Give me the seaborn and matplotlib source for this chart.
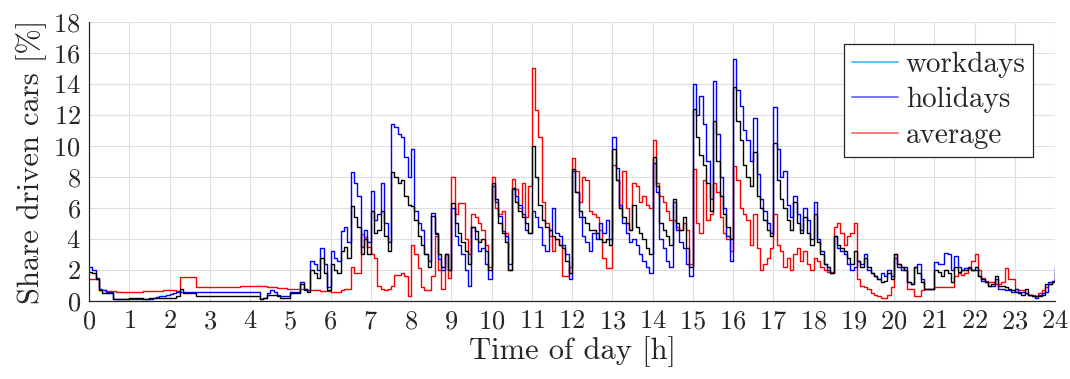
import numpy as np
import pandas as pd
import matplotlib
matplotlib.use("Agg")
import matplotlib.pyplot as plt
from matplotlib.lines import Line2D
import seaborn as sns

# Share of driven cars [%], sampled every 5 minutes from 0:00 to 24:00
minutes = np.arange(0, 24 * 60 + 1, 5)
time_h = minutes / 60.0

average = [
    1.4, 1.4, 1.4, 0.7, 0.7, 0.65, 0.65, 0.65, 0.6, 0.6, 0.6, 0.6,
    0.6, 0.6, 0.6, 0.6, 0.62, 0.63, 0.64, 0.65, 0.66, 0.67, 0.68, 0.7,
    0.7, 0.7, 0.65, 1.55, 1.55, 1.55, 1.55, 1.55, 0.9, 0.9, 0.9, 0.9,
    0.9, 0.9, 0.9, 0.9, 0.9, 0.9, 0.9, 0.9, 0.9, 0.95, 1.0, 1.0,
    1.0, 1.0, 0.98, 0.96, 0.95, 0.93, 0.9, 0.88, 0.86, 0.85, 0.83, 0.8,
    0.8, 0.8, 0.78, 0.77, 0.75, 0.74, 0.72, 0.7, 0.68, 0.66, 0.64, 0.62,
    0.6, 0.6, 0.6, 0.7, 0.8, 0.8, 2.2, 1.8, 1.8, 4.3, 4.1, 3.5,
    3.0, 2.8, 1.0, 0.8, 0.7, 0.8, 1.0, 1.7, 1.7, 1.8, 1.6, 0.3,
    3.6, 3.0, 2.1, 0.9, 0.7, 0.7, 1.6, 4.2, 2.0, 0.8, 3.0, 1.5,
    8.0, 5.6, 6.3, 6.3, 4.0, 3.0, 5.6, 5.4, 5.0, 4.6, 3.6, 2.2,
    8.0, 6.0, 5.6, 5.8, 4.4, 2.0, 7.9, 7.2, 6.0, 7.6, 5.4, 7.4,
    15.0, 12.3, 10.6, 6.4, 5.0, 4.2, 3.2, 4.0, 3.6, 1.6, 1.6, 2.2,
    9.2, 8.4, 6.4, 8.0, 7.8, 5.8, 5.6, 5.4, 4.6, 2.8, 2.1, 2.1,
    8.8, 7.8, 6.0, 8.4, 6.0, 4.6, 7.6, 7.4, 6.4, 6.8, 6.2, 6.0,
    10.4, 7.6, 6.8, 6.4, 5.8, 5.2, 5.2, 4.8, 4.6, 5.0, 4.6, 2.4,
    8.5, 5.0, 4.4, 7.8, 5.2, 5.6, 7.6, 7.0, 5.4, 4.4, 4.0, 3.2,
    8.7, 7.8, 6.0, 5.6, 5.2, 3.6, 5.6, 3.4, 2.0, 2.4, 2.8, 3.4,
    5.6, 3.6, 3.2, 2.2, 2.8, 2.0, 3.0, 3.4, 2.6, 3.2, 2.4, 2.0,
    2.8, 2.6, 2.2, 2.0, 1.9, 1.9, 4.8, 5.0, 4.4, 3.6, 4.2, 4.4,
    5.0, 1.4, 1.0, 0.9, 0.8, 0.5, 0.4, 0.3, 0.2, 0.2, 0.4, 0.9,
    3.0, 2.4, 2.2, 2.0, 0.8, 0.8, 0.3, 0.3, 0.7, 0.8, 0.8, 0.8,
    0.9, 0.9, 0.9, 0.9, 0.9, 0.9, 1.6, 1.8, 1.7, 1.8, 2.2, 2.6,
    3.0, 2.0, 1.5, 1.3, 1.2, 1.2, 1.1, 1.1, 1.2, 2.1, 1.4, 1.4,
    0.8, 0.7, 0.7, 0.5, 0.4, 0.4, 0.3, 0.5, 0.7, 0.9, 1.1, 1.3,
    1.5,
]

holidays = [
    2.2, 2.0, 1.5, 0.8, 0.7, 0.6, 0.6, 0.1, 0.1, 0.1, 0.1, 0.1,
    0.1, 0.1, 0.1, 0.1, 0.1, 0.1, 0.15, 0.2, 0.25, 0.3, 0.35, 0.4,
    0.45, 0.5, 0.55, 0.6, 0.6, 0.6, 0.6, 0.6, 0.6, 0.6, 0.6, 0.6,
    0.6, 0.6, 0.6, 0.6, 0.6, 0.6, 0.6, 0.6, 0.6, 0.6, 0.6, 0.6,
    0.6, 0.6, 0.6, 0.1, 0.2, 0.5, 0.7, 0.6, 0.4, 0.3, 0.3, 0.3,
    0.6, 0.6, 0.6, 1.2, 0.8, 0.7, 2.6, 2.4, 2.0, 3.4, 2.4, 0.9,
    3.2, 2.8, 2.6, 4.5, 4.8, 3.8, 8.3, 7.6, 6.8, 3.5, 4.6, 3.8,
    7.1, 5.2, 5.6, 7.6, 5.0, 3.8, 11.4, 11.2, 10.8, 10.6, 9.3, 8.0,
    9.8, 5.8, 5.0, 4.6, 3.0, 2.6, 5.7, 4.3, 2.7, 2.0, 3.0, 2.0,
    6.0, 4.2, 3.6, 3.0, 2.0, 1.0, 4.8, 4.0, 3.2, 3.4, 2.4, 1.4,
    7.4, 6.4, 5.5, 4.5, 4.2, 2.4, 7.2, 6.8, 6.2, 5.6, 4.6, 4.4,
    5.8, 5.4, 4.8, 3.6, 3.2, 4.6, 6.0, 4.4, 4.2, 3.6, 3.0, 1.4,
    8.4, 7.0, 5.4, 4.2, 3.8, 3.2, 4.4, 4.0, 5.0, 4.4, 5.2, 4.0,
    10.6, 8.6, 6.2, 5.0, 4.4, 3.8, 4.0, 3.6, 3.0, 2.6, 2.2, 1.8,
    8.9, 7.0, 4.0, 3.4, 2.6, 2.2, 6.4, 4.6, 3.8, 3.4, 2.4, 1.6,
    14.0, 12.0, 13.2, 11.4, 9.0, 6.6, 14.2, 10.8, 8.0, 6.0, 4.2, 2.6,
    15.6, 13.6, 12.6, 11.0, 10.4, 9.0, 11.8, 8.2, 6.6, 5.8, 5.0, 4.4,
    12.5, 9.8, 8.0, 8.4, 6.2, 5.4, 6.8, 5.6, 4.6, 6.0, 5.2, 4.0,
    6.4, 4.0, 3.2, 2.4, 2.0, 1.8, 4.2, 3.4, 3.2, 3.0, 2.4, 2.0,
    2.2, 2.6, 2.4, 3.0, 2.0, 1.8, 1.6, 1.4, 1.8, 1.6, 2.0, 1.6,
    2.8, 2.2, 2.0, 2.2, 1.2, 1.1, 2.2, 2.4, 1.4, 0.8, 0.8, 0.8,
    2.5, 2.4, 2.4, 3.1, 3.0, 2.0, 2.9, 2.2, 2.0, 2.1, 2.2, 2.0,
    2.0, 1.6, 1.3, 1.2, 1.0, 1.0, 1.4, 0.8, 0.8, 0.7, 0.7, 0.6,
    0.8, 0.6, 0.6, 0.5, 0.4, 0.3, 0.2, 0.4, 0.5, 0.6, 1.2, 1.3,
    2.2,
]

all_days = [
    1.9, 1.8, 1.4, 0.7, 0.5, 0.5, 0.5, 0.1, 0.1, 0.1, 0.1, 0.1,
    0.2, 0.2, 0.2, 0.2, 0.1, 0.1, 0.2, 0.2, 0.2, 0.2, 0.2, 0.2,
    0.2, 0.2, 0.3, 0.8, 0.5, 0.5, 0.5, 0.5, 0.3, 0.3, 0.3, 0.3,
    0.3, 0.3, 0.3, 0.3, 0.3, 0.3, 0.3, 0.3, 0.3, 0.3, 0.3, 0.3,
    0.3, 0.3, 0.3, 0.1, 0.2, 0.4, 0.4, 0.4, 0.3, 0.2, 0.2, 0.2,
    0.5, 0.5, 0.5, 1.1, 0.7, 0.6, 2.0, 1.8, 1.5, 2.8, 1.8, 0.7,
    2.4, 2.0, 1.8, 3.2, 3.5, 2.8, 6.1, 5.4, 4.8, 3.0, 4.0, 3.0,
    5.8, 4.4, 4.6, 5.8, 4.2, 3.2, 8.3, 8.0, 7.6, 7.8, 6.8, 6.2,
    6.1, 5.2, 4.2, 3.6, 3.0, 2.2, 5.5, 4.4, 3.0, 2.2, 3.0, 2.0,
    6.3, 5.0, 4.4, 3.8, 3.2, 2.4, 4.8, 4.5, 3.8, 4.0, 3.2, 2.0,
    7.6, 6.6, 5.0, 4.4, 3.8, 2.0, 7.3, 6.4, 5.8, 5.4, 5.0, 4.4,
    10.0, 8.0, 6.2, 5.2, 4.8, 4.6, 4.2, 4.0, 3.6, 3.4, 2.6, 1.8,
    8.5, 7.0, 5.8, 5.4, 5.0, 4.6, 4.6, 4.4, 4.0, 3.8, 4.0, 3.6,
    9.8, 7.8, 6.0, 5.4, 5.0, 4.6, 6.2, 4.8, 4.4, 4.0, 3.4, 3.0,
    9.3, 7.4, 5.0, 4.6, 4.2, 3.6, 6.6, 5.0, 4.6, 5.4, 3.4, 2.2,
    12.4, 10.6, 9.4, 8.8, 7.6, 5.8, 11.6, 9.0, 6.8, 5.6, 4.8, 4.0,
    13.8, 11.6, 10.4, 8.8, 8.0, 7.4, 9.6, 6.8, 6.0, 5.2, 4.6, 4.2,
    10.2, 7.8, 6.6, 6.0, 5.2, 4.6, 6.4, 5.0, 4.4, 5.4, 4.4, 3.6,
    5.6, 3.8, 3.0, 2.4, 2.2, 1.8, 4.2, 3.6, 3.4, 3.2, 2.8, 2.4,
    3.2, 2.6, 2.2, 2.8, 2.2, 1.8, 1.6, 1.4, 1.2, 1.3, 1.8, 1.4,
    3.0, 2.4, 2.2, 2.0, 1.2, 1.1, 2.2, 1.8, 1.2, 0.8, 0.8, 0.8,
    2.0, 1.9, 1.6, 2.0, 1.8, 1.2, 2.2, 1.9, 2.0, 2.0, 2.1, 2.0,
    2.2, 1.6, 1.4, 1.2, 1.0, 1.1, 1.6, 1.0, 1.0, 0.9, 0.8, 0.7,
    0.6, 0.5, 0.4, 0.8, 0.4, 0.3, 0.3, 0.3, 0.4, 1.1, 1.1, 1.2,
    1.8,
]

legend_labels = ["workdays", "holidays", "average"]
legend_colors = ["#4DBEEE", "#6b6bff", "#ff6b6b"]

x_ticks = list(range(0, 25))
y_ticks = list(range(0, 19, 2))

df = pd.DataFrame({"time": time_h, "average": average,
                   "holidays": holidays, "all_days": all_days})

sns.set_style("white")
plt.rcParams.update({
    "font.family": ["cmr10"],
    "mathtext.fontset": "cm",
    "axes.formatter.use_mathtext": True,
    "axes.unicode_minus": False,
})

fig = plt.figure(figsize=(10.7, 3.79), dpi=100)
ax = fig.add_axes([0.0832, 0.2058, 0.9028, 0.7362])

# stair-style traces, black one on top
line_kw = dict(drawstyle="steps-post", linewidth=1.0, estimator=None,
               errorbar=None, legend=False)
sns.lineplot(data=df, x="time", y="average", color="#ff0000", ax=ax, zorder=3, **line_kw)
sns.lineplot(data=df, x="time", y="holidays", color="#0000ff", ax=ax, zorder=4, **line_kw)
sns.lineplot(data=df, x="time", y="all_days", color="#000000", ax=ax, zorder=5, **line_kw)

ax.set_xlim(0, 24)
ax.set_ylim(0, 18)
ax.set_xticks(x_ticks)
ax.set_yticks(y_ticks)
ax.grid(True, color="#dedede", linewidth=0.8)
ax.set_axisbelow(True)

for side in ["top", "right"]:
    ax.spines[side].set_visible(False)
for side in ["left", "bottom"]:
    ax.spines[side].set_color("#262626")
    ax.spines[side].set_linewidth(0.9)
ax.spines["left"].set_zorder(6)
ax.spines["bottom"].set_zorder(6)

ax.tick_params(direction="in", length=5, width=0.9, colors="#262626",
               labelsize=19, pad=6)
ax.set_xlabel("Time of day [h]", fontsize=22, color="#262626", labelpad=2)
ax.set_ylabel("Share driven cars [%]", fontsize=22, color="#262626", labelpad=4)

handles = [Line2D([], [], color=c, linewidth=1.3) for c in legend_colors]
leg = ax.legend(handles, legend_labels, loc="upper right",
                bbox_to_anchor=(0.977, 0.921), borderaxespad=0,
                fontsize=21, frameon=True, fancybox=False, shadow=False,
                handlelength=1.6, handletextpad=0.25, labelspacing=0.32,
                borderpad=0.25)
leg.get_frame().set_edgecolor("#262626")
leg.get_frame().set_linewidth(0.9)
leg.get_frame().set_facecolor("white")
leg.get_frame().set_alpha(1.0)
leg.set_zorder(10)

fig.savefig("out.png", dpi=100)
